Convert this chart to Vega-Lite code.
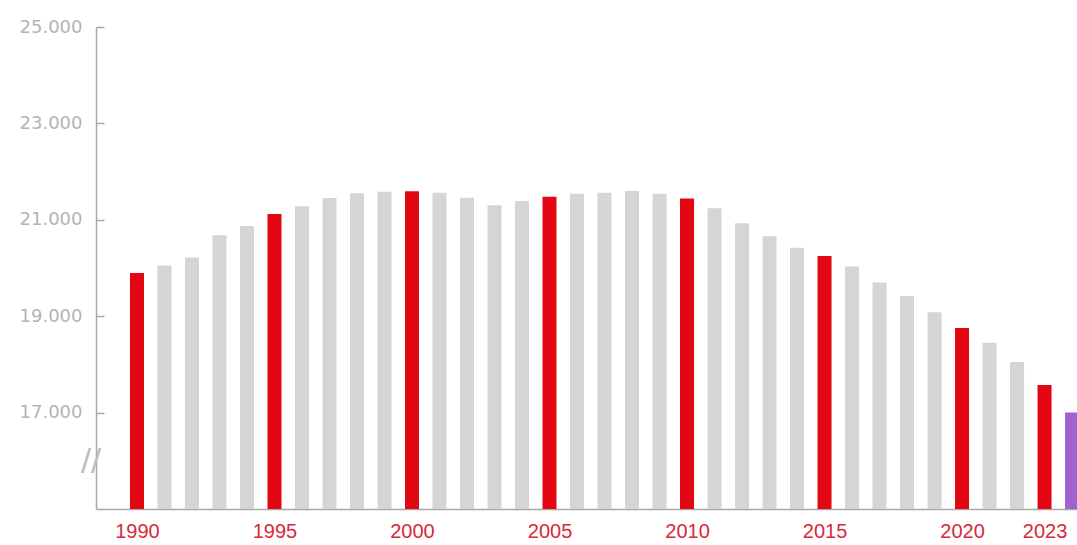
{
  "$schema": "https://vega.github.io/schema/vega-lite/v6.json",
  "width": 981,
  "height": 482,
  "autosize": {"type": "none"},
  "padding": {"left": 96, "top": 27, "right": 0, "bottom": 36},
  "background": "white",
  "config": {"view": {"stroke": null}},
  "datasets": {
    "apotheken": [
      {"year": 1990, "value": 19898, "kind": "red"},
      {"year": 1991, "value": 20050, "kind": "grey"},
      {"year": 1992, "value": 20220, "kind": "grey"},
      {"year": 1993, "value": 20680, "kind": "grey"},
      {"year": 1994, "value": 20870, "kind": "grey"},
      {"year": 1995, "value": 21119, "kind": "red"},
      {"year": 1996, "value": 21280, "kind": "grey"},
      {"year": 1997, "value": 21450, "kind": "grey"},
      {"year": 1998, "value": 21550, "kind": "grey"},
      {"year": 1999, "value": 21580, "kind": "grey"},
      {"year": 2000, "value": 21592, "kind": "red"},
      {"year": 2001, "value": 21560, "kind": "grey"},
      {"year": 2002, "value": 21460, "kind": "grey"},
      {"year": 2003, "value": 21300, "kind": "grey"},
      {"year": 2004, "value": 21390, "kind": "grey"},
      {"year": 2005, "value": 21476, "kind": "red"},
      {"year": 2006, "value": 21540, "kind": "grey"},
      {"year": 2007, "value": 21560, "kind": "grey"},
      {"year": 2008, "value": 21600, "kind": "grey"},
      {"year": 2009, "value": 21540, "kind": "grey"},
      {"year": 2010, "value": 21441, "kind": "red"},
      {"year": 2011, "value": 21240, "kind": "grey"},
      {"year": 2012, "value": 20930, "kind": "grey"},
      {"year": 2013, "value": 20660, "kind": "grey"},
      {"year": 2014, "value": 20420, "kind": "grey"},
      {"year": 2015, "value": 20249, "kind": "red"},
      {"year": 2016, "value": 20030, "kind": "grey"},
      {"year": 2017, "value": 19700, "kind": "grey"},
      {"year": 2018, "value": 19420, "kind": "grey"},
      {"year": 2019, "value": 19080, "kind": "grey"},
      {"year": 2020, "value": 18753, "kind": "red"},
      {"year": 2021, "value": 18450, "kind": "grey"},
      {"year": 2022, "value": 18050, "kind": "grey"},
      {"year": 2023, "value": 17571, "kind": "red"},
      {"year": 2024, "value": 17000, "kind": "purple"}
    ],
    "bruch": [
      {"year": 1988.51, "value": 16000, "mark": "//"}
    ]
  },
  "layer": [
    {
      "data": {"name": "apotheken"},
      "mark": {"type": "bar", "width": 14},
      "encoding": {
        "x": {
          "field": "year",
          "type": "quantitative",
          "scale": {"domain": [1988.51, 2024.18], "nice": false, "zero": false, "padding": 0},
          "axis": {
            "values": [1990, 1995, 2000, 2005, 2010, 2015, 2020, 2023],
            "format": "d",
            "title": null,
            "grid": false,
            "ticks": false,
            "domain": true,
            "domainColor": "#a8a8a8",
            "domainWidth": 1.5,
            "labelColor": "#d8283c",
            "labelFont": "Liberation Sans",
            "labelFontSize": 20,
            "labelPadding": 12
          }
        },
        "y": {
          "field": "value",
          "type": "quantitative",
          "scale": {"domain": [15000, 25000], "nice": false, "zero": false, "padding": 0},
          "axis": {
            "values": [17000, 19000, 21000, 23000, 25000],
            "labelExpr": "replace(format(datum.value, ','), ',', '.')",
            "title": null,
            "grid": false,
            "domainColor": "#a8a8a8",
            "domainWidth": 1.5,
            "tickColor": "#a8a8a8",
            "tickWidth": 1.5,
            "tickSize": -8,
            "labelColor": "#b4b4b4",
            "labelFont": "DejaVu Sans",
            "labelFontSize": 18,
            "labelPadding": 22
          }
        },
        "y2": {"datum": 15000},
        "color": {
          "field": "kind",
          "type": "nominal",
          "scale": {"domain": ["grey", "red", "purple"], "range": ["#d5d5d7", "#e30613", "#a062d0"]},
          "legend": null
        }
      }
    },
    {
      "data": {"name": "bruch"},
      "mark": {"type": "text", "font": "DejaVu Sans", "fontSize": 30, "color": "#bcbcbc", "align": "center", "baseline": "middle", "dx": -5, "clip": false},
      "encoding": {
        "x": {"field": "year", "type": "quantitative"},
        "y": {"field": "value", "type": "quantitative"},
        "text": {"field": "mark", "type": "nominal"}
      }
    }
  ]
}
